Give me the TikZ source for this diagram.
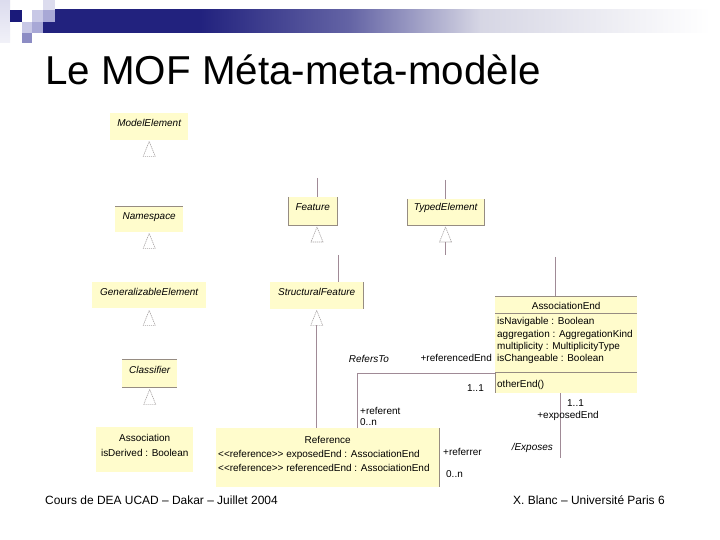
\documentclass[tikz,border=0pt]{standalone}
\usepackage{fontspec}
\setmainfont{Liberation Sans}
\definecolor{boxfill}{RGB}{255,252,204}
\definecolor{lnc}{RGB}{160,138,150}
\definecolor{bordc}{RGB}{150,140,130}
\definecolor{trig}{RGB}{165,160,160}
\definecolor{navy}{RGB}{26,26,122}
\definecolor{barA}{RGB}{34,34,126}
\definecolor{barB}{RGB}{100,100,165}
\definecolor{barC}{RGB}{214,214,228}
\definecolor{sqA}{RGB}{220,220,238}
\definecolor{sqB}{RGB}{200,200,230}
\definecolor{sqC}{RGB}{168,168,214}
\definecolor{sqD}{RGB}{140,140,196}
\newcommand\inhtri[1]{\draw[tri] (#1) -- ++(-6,15) -- ++(12,0) -- cycle;}
\newcommand\stereo{<{}<reference>{}>}
\begin{document}
\begin{tikzpicture}[x=1bp,y=-1bp,
  cls/.style={fill=boxfill, draw=none, inner sep=0pt, anchor=north west},
  lbl/.style={font=\fontsize{10}{12}\selectfont, inner sep=0pt, anchor=base},
  ilbl/.style={lbl, font=\fontsize{10}{12}\selectfont\itshape},
  bord/.style={draw=bordc, line width=0.7bp},
  conn/.style={draw=lnc, line width=0.8bp},
  tri/.style={draw=trig, line width=0.6bp, dash pattern=on 1.2bp off 0.8bp},
]
\useasboundingbox (0,0) rectangle (720,540);
\fill[white] (0,0) rectangle (720,540);

% ---- header decoration ----
\shade[left color=barA, right color=barA] (43,10) rectangle (200,33);
\shade[left color=barA, right color=barB] (200,10) rectangle (350,33);
\shade[left color=barB, right color=barC] (350,10) rectangle (480,33);
\shade[left color=barC, right color=white] (480,10) rectangle (710,33);
\shade[top color=sqA, bottom color=sqA!40] (0,0) rectangle (10,43);
\fill[navy] (10,10) rectangle (22,22);
\fill[sqB] (32,10) rectangle (43,22);
\fill[sqC] (43,10) rectangle (55,22);
\fill[sqA] (43,0) rectangle (55,10);
\fill[sqB] (22,22) rectangle (32,33);
\fill[sqC] (32,22) rectangle (43,33);
\fill[sqD] (22,33) rectangle (32,43);

% ---- title ----
\node[anchor=base west, inner sep=0pt, font=\fontsize{40.5}{48}\selectfont] (title) at (45,85) {Le MOF Méta-meta-modèle};

% ---- classes ----
\node[cls, minimum width=78bp, minimum height=27bp] (me) at (110,113) {};
\path (me.north) ++(0,14) node[ilbl] (meT) {ModelElement};

\node[cls, minimum width=68bp, minimum height=26bp] (ns) at (115,206) {};
\draw[bord] (ns.north west) -- (ns.north east);
\path (ns.north) ++(0,14) node[ilbl] (nsT) {Namespace};

\node[cls, minimum width=114bp, minimum height=26bp] (ge) at (92,282) {};
\path (ge.north) ++(0,13) node[ilbl] (geT) {GeneralizableElement};

\node[cls, minimum width=55bp, minimum height=28bp] (cl) at (122,359) {};
\draw[bord] (cl.north west) -- (cl.north east);
\draw[bord] (cl.south west) -- (cl.south east);
\path (cl.north) ++(0,14) node[ilbl] (clT) {Classifier};

\node[cls, minimum width=97bp, minimum height=45bp] (as) at (96,427) {};
\path (as.north) ++(0,14) node[lbl] (asT1) {Association};
\path (as.north) ++(0,29) node[lbl] (asT2) {isDerived : Boolean};

\node[cls, minimum width=49bp, minimum height=28bp] (feat) at (288,197) {};
\draw[bord] (feat.north west) -- (feat.south west) -- (feat.south east) -- (feat.north east);
\path (feat.north) ++(0,14) node[ilbl] (featT) {Feature};

\node[cls, minimum width=77bp, minimum height=26bp] (te) at (407,199) {};
\draw[bord] (te.north west) -- (te.south west) -- (te.south east) -- (te.north east);
\path (te.north) ++(0,12) node[ilbl] (teT) {TypedElement};

\node[cls, minimum width=93bp, minimum height=27bp] (sf) at (270,282) {};
\draw[bord] (sf.north east) -- (sf.south east);
\path (sf.north) ++(0,13) node[ilbl] (sfT) {StructuralFeature};

\node[cls, minimum width=223bp, minimum height=59bp] (ref) at (216,428) {};
\draw[bord] (ref.north east) -- (ref.south east);
\path (ref.north) ++(0,15) node[lbl] (refT1) {Reference};
\path (ref.north west) ++(2,29) node[lbl, anchor=base west] (refT2) {\stereo{} exposedEnd : AssociationEnd};
\path (ref.north west) ++(2,43) node[lbl, anchor=base west] (refT3) {\stereo{} referencedEnd : AssociationEnd};

\node[cls, minimum width=142bp, minimum height=97bp] (ae) at (495,296) {};
\draw[bord] (ae.north west) -- (ae.north east);
\draw[bord] (ae.north west) ++(0,17) -- ++(142,0);
\draw[bord] (ae.north west) ++(0,76) -- ++(142,0);
\draw[bord] (ae.north west) ++(0,76) -- (ae.south west);
\path (ae.north) ++(0,13) node[lbl] (aeT) {AssociationEnd};
\path (ae.north west) ++(2,28) node[lbl, anchor=base west] (aeA1) {isNavigable : Boolean};
\path (ae.north west) ++(2,41) node[lbl, anchor=base west] (aeA2) {aggregation : AggregationKind};
\path (ae.north west) ++(2,53) node[lbl, anchor=base west] (aeA3) {multiplicity : MultiplicityType};
\path (ae.north west) ++(2,65) node[lbl, anchor=base west] (aeA4) {isChangeable : Boolean};
\path (ae.north west) ++(2,91) node[lbl, anchor=base west] (aeO) {otherEnd()};

% ---- inheritance triangles ----
\path (me.south) ++(0,1) coordinate (meTri);
\path (ns.south) ++(0,1) coordinate (nsTri);
\path (ge.south) ++(0,2) coordinate (geTri);
\path (cl.south) ++(0,2) coordinate (clTri);
\path (sf.south) ++(0,1) coordinate (sfTri);
\coordinate (featTri) at (317,227);
\coordinate (teTri) at (445.5,227);
\inhtri{meTri}
\inhtri{nsTri}
\inhtri{geTri}
\inhtri{clTri}
\inhtri{sfTri}
\inhtri{featTri}
\inhtri{teTri}

% ---- connector stubs ----
\coordinate (featUp) at (317,178);
\draw[conn] (featUp) -- (featUp |- feat.north);
\coordinate (teUp) at (445.5,180);
\draw[conn] (teUp) -- (teUp |- te.north);
\coordinate (teDown) at (445.5,255);
\draw[conn] (teTri) ++(0,15) -- (teDown);
\coordinate (sfUp) at (338,255);
\draw[conn] (sfUp) -- (sfUp |- sf.north);
\coordinate (aeUp) at (555,257);
\draw[conn] (aeUp) -- (aeUp |- ae.north);

% StructuralFeature <- Reference
\path (sfTri) ++(0,15) coordinate (sfTriB);
\draw[conn] (sfTriB) -- (sfTriB |- ref.north);

% RefersTo
\coordinate (rc) at (357,373);
\draw[conn] (rc |- ref.north) -- (rc) -- (rc -| ae.west);

% Exposes
\coordinate (exEnd) at (560,458);
\draw[conn] (exEnd |- ae.south) -- (exEnd);

% ---- association labels ----
\node[ilbl] (lRefersTo) at (369,362) {RefersTo};
\node[lbl, anchor=base east] (lRefEnd) at (492,361) {+referencedEnd};
\node[lbl, anchor=base east] (lM1) at (484,391) {1..1};
\node[lbl, anchor=base west] (lReferent) at (360,414) {+referent};
\node[lbl, anchor=base west] (lM2) at (360,425) {0..n};
\node[lbl, anchor=base west] (lReferrer) at (443,455) {+referrer};
\node[lbl, anchor=base west] (lM3) at (446,477) {0..n};
\node[ilbl, anchor=base east] (lExposes) at (553,450) {/Exposes};
\node[lbl, anchor=base west] (lM4) at (567,406) {1..1};
\node[lbl] (lExpEnd) at (568,418) {+exposedEnd};

% ---- footer ----
\node[anchor=base west, inner sep=0pt, font=\fontsize{12}{14}\selectfont] (footL) at (45,504) {Cours de DEA UCAD – Dakar – Juillet 2004};
\node[anchor=base west, inner sep=0pt, font=\fontsize{12}{14}\selectfont] (footR) at (513,504) {X. Blanc – Université Paris 6};
\end{tikzpicture}
\end{document}
